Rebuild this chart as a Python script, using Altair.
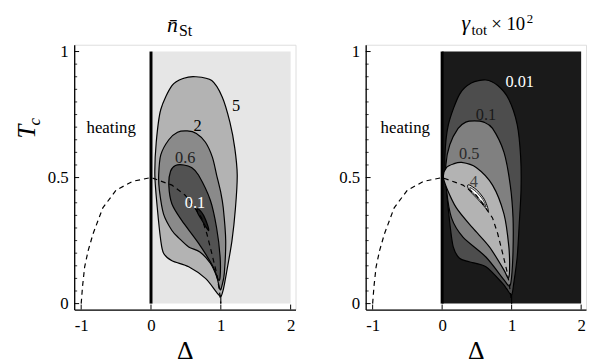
import altair as alt
import pandas as pd

FONT = "Liberation Serif"

# ---------------- data ----------------
x_ticks = [-1, 0, 1, 2]
y_ticks = [0, 0.5, 1]
y_minor = [0.05, 0.1, 0.15, 0.2, 0.25, 0.3, 0.35, 0.4, 0.45,
           0.55, 0.6, 0.65, 0.7, 0.75, 0.8, 0.85, 0.9, 0.95]

shade_d = [0, 2]
shade_t = [0, 1]

# left panel: n_St contours
n5_d = [0.64, 0.87, 1.02, 1.13, 1.20, 1.235, 1.21, 1.16, 1.08, 1.035, 1.0,
        0.94, 0.78, 0.54, 0.30, 0.18, 0.14, 0.09, 0.055, 0.075, 0.14, 0.30, 0.47]
n5_t = [0.90, 0.885, 0.82, 0.72, 0.617, 0.51, 0.38, 0.25, 0.12, 0.055, 0.028,
        0.045, 0.10, 0.146, 0.17, 0.20, 0.25, 0.38, 0.51, 0.64, 0.77, 0.865, 0.894]
n2_d = [0.52, 0.65, 0.78, 0.88, 0.94, 1.0, 1.035, 1.07, 1.05, 1.02, 0.99,
        0.94, 0.85, 0.70, 0.54, 0.40, 0.30, 0.18, 0.12, 0.11, 0.14, 0.255, 0.38]
n2_t = [0.685, 0.675, 0.64, 0.58, 0.51, 0.44, 0.38, 0.25, 0.12, 0.075, 0.055,
        0.107, 0.16, 0.205, 0.225, 0.26, 0.29, 0.355, 0.45, 0.51, 0.59, 0.65, 0.68]
n06_d = [0.47, 0.58, 0.68, 0.85, 0.94, 0.99, 0.99, 0.965,
         0.89, 0.68, 0.44, 0.30, 0.255, 0.28, 0.35]
n06_t = [0.55, 0.54, 0.51, 0.41, 0.30, 0.185, 0.107, 0.094,
         0.146, 0.24, 0.33, 0.395, 0.47, 0.525, 0.548]
n01_d = [0.656, 0.698, 0.755, 0.812, 0.826, 0.79, 0.717, 0.67]
n01_t = [0.375, 0.371, 0.349, 0.310, 0.290, 0.303, 0.336, 0.358]

# right panel: gamma_tot contours
g001_d = [0.63, 0.80, 0.96, 1.08, 1.13, 1.135, 1.11, 1.08, 1.03, 1.0,
          0.93, 0.87, 0.63, 0.39, 0.25, 0.16, 0.11, 0.064, 0.04, 0.09, 0.25, 0.42]
g001_t = [0.887, 0.865, 0.81, 0.71, 0.58, 0.45, 0.32, 0.185, 0.08, 0.035,
          0.058, 0.08, 0.146, 0.166, 0.18, 0.225, 0.32, 0.45, 0.58, 0.71, 0.83, 0.875]
g01_d = [0.465, 0.60, 0.725, 0.89, 0.98, 1.02, 1.02, 1.0, 0.97,
         0.89, 0.63, 0.30, 0.135, 0.064, 0.054, 0.11, 0.23, 0.34]
g01_t = [0.725, 0.72, 0.695, 0.60, 0.47, 0.34, 0.21, 0.107, 0.068,
         0.094, 0.185, 0.264, 0.34, 0.45, 0.55, 0.63, 0.695, 0.72]
g05_d = [0.28, 0.49, 0.725, 0.89, 0.96, 0.97, 0.95,
         0.89, 0.68, 0.44, 0.205, 0.064, 0.017, 0.064, 0.16]
g05_t = [0.56, 0.54, 0.47, 0.355, 0.225, 0.133, 0.10,
         0.133, 0.225, 0.30, 0.38, 0.46, 0.505, 0.54, 0.554]
g4_d = [0.371, 0.418, 0.513, 0.606, 0.654, 0.663, 0.616, 0.513, 0.408, 0.371]
g4_t = [0.471, 0.467, 0.447, 0.414, 0.382, 0.366, 0.382, 0.414, 0.444, 0.46]
g4in_d = [0.404, 0.488, 0.583, 0.63, 0.57, 0.465, 0.408]
g4in_t = [0.46, 0.444, 0.414, 0.384, 0.405, 0.434, 0.452]

# dashed curve
dash_d = [-1.0, -0.98, -0.95, -0.90, -0.83, -0.69, -0.50, -0.265, 0.0,
          0.30, 0.49, 0.60, 0.725, 0.80, 0.87, 0.94, 0.98, 1.0]
dash_t = [0.0, 0.07, 0.146, 0.21, 0.277, 0.38, 0.45, 0.485, 0.5,
          0.47, 0.43, 0.39, 0.34, 0.277, 0.20, 0.12, 0.05, 0.0]

cusp_d = [1.0]
cusp_t = [0.0]
cusp_t2 = [0.035]

# labels
left_lab_text = ["5", "2", "0.6", "0.1", "heating"]
left_lab_d = [1.218, 0.667, 0.49, 0.63, -0.57]
left_lab_t = [0.785, 0.706, 0.578, 0.40, 0.695]
left_lab_col = ["black", "black", "#222222", "white", "black"]
left_lab_size = [16.5, 16.5, 16.5, 16.5, 17]

right_lab_text = ["0.01", "0.1", "0.5", "4", "heating"]
right_lab_d = [1.116, 0.63, 0.39, 0.455, -0.53]
right_lab_t = [0.878, 0.748, 0.593, 0.482, 0.695]
right_lab_col = ["white", "#1a1a1a", "#2a2a2a", "#444444", "black"]
right_lab_size = [16.5, 16.5, 16.5, 16.5, 17]

# ---------------- helpers ----------------
X_DOM = [-1.10, 2.07]
Y_DOM = [-0.0235, 1.027]
W_L, W_R, H = 224, 223, 268

XAXIS = alt.Axis(values=x_ticks, ticks=False, grid=False, domainColor="black",
                 domainWidth=1.3, labelFont=FONT, labelFontSize=17, labelColor="black",
                 labelPadding=8, labelFlush=False,
                 labelExpr="replace(datum.label, '\u2212', '-')",
                 title="\u0394", titleFont=FONT, titleFontSize=26,
                 titleFontWeight="normal", titleColor="black", titlePadding=5)
YAXIS = alt.Axis(values=y_ticks, ticks=False, grid=False, domainColor="black",
                 domainWidth=1.3, labelFont=FONT, labelFontSize=17, labelColor="black",
                 labelPadding=6, labelFlush=False, format="~g", title=None)


def xe(f="d"):
    return alt.X(f"{f}:Q", scale=alt.Scale(domain=X_DOM, nice=False, zero=False), axis=XAXIS)


def ye(f="t"):
    return alt.Y(f"{f}:Q", scale=alt.Scale(domain=Y_DOM, nice=False, zero=False), axis=YAXIS)


def poly(d, t, fill, sw=1.2, stroke="black"):
    df = pd.DataFrame({"d": d, "t": t, "i": list(range(len(d)))})
    return alt.Chart(df).mark_line(fill=fill, stroke=stroke, strokeWidth=sw,
                                   interpolate="cardinal-closed", tension=0.15).encode(
        x=xe(), y=ye(), order="i:Q")


def txt(s, x, y, size, italic=False, angle=0, align="left", baseline="alphabetic", color="black"):
    return alt.Chart(pd.DataFrame({"s": [s]})).mark_text(
        font=FONT, fontSize=size, fontStyle="italic" if italic else "normal",
        angle=angle, align=align, baseline=baseline, color=color).encode(
        text="s:N", x=alt.value(x), y=alt.value(y))


def panel(bg, contours, lab_text, lab_d, lab_t, lab_col, lab_size, extra, width):
    layers = []
    shade = pd.DataFrame({"d": [shade_d[0]], "d2": [shade_d[1]],
                          "t": [shade_t[0]], "t2": [shade_t[1]]})
    layers.append(alt.Chart(shade).mark_rect(color=bg).encode(
        x=xe(), x2="d2:Q", y=ye(), y2="t2:Q"))
    for c in contours:
        layers.append(poly(*c))
    dash = pd.DataFrame({"d": dash_d, "t": dash_t, "i": list(range(len(dash_d)))})
    layers.append(alt.Chart(dash).mark_line(color="black", strokeWidth=1.2,
                                            strokeDash=[5, 4]).encode(
        x=xe(), y=ye(), order="i:Q"))
    cusp = pd.DataFrame({"d": cusp_d, "t": cusp_t, "t2": cusp_t2})
    layers.append(alt.Chart(cusp).mark_rule(color="black", strokeWidth=1.1).encode(
        x=xe(), y=ye(), y2="t2:Q"))
    thick = pd.DataFrame({"d": [0], "t": [shade_t[0]], "t2": [shade_t[1]]})
    layers.append(alt.Chart(thick).mark_rule(color="black", strokeWidth=3).encode(
        x=xe(), y=ye(), y2="t2:Q"))
    # inward ticks
    layers.append(alt.Chart(pd.DataFrame({"t": y_ticks})).mark_rule(
        color="black", strokeWidth=1).encode(y=ye(), x=alt.value(0), x2=alt.value(5)))
    layers.append(alt.Chart(pd.DataFrame({"t": y_minor})).mark_rule(
        color="black", strokeWidth=0.8).encode(y=ye(), x=alt.value(0), x2=alt.value(3)))
    layers.append(alt.Chart(pd.DataFrame({"d": x_ticks})).mark_rule(
        color="black", strokeWidth=1).encode(x=xe(), y=alt.value(H), y2=alt.value(H - 5)))
    labs = pd.DataFrame({"s": lab_text, "d": lab_d, "t": lab_t, "c": lab_col, "z": lab_size})
    layers.append(alt.Chart(labs).mark_text(font=FONT, baseline="middle",
                                            align="center").encode(
        x=xe(), y=ye(), text="s:N", color=alt.Color("c:N", scale=None),
        size=alt.Size("z:Q", scale=None)))
    layers.extend(extra)
    return alt.layer(*layers).properties(width=width, height=H)


left_extra = [
    # invisible anchor fixing the top-left corner of the page layout
    alt.Chart(pd.DataFrame({"a": [0]})).mark_rule(color="white", strokeWidth=1).encode(
        x=alt.value(-66), x2=alt.value(-64), y=alt.value(-34)),
    txt("T", -48, 88, 25, italic=True, angle=270, align="center", baseline="middle"),
    txt("c", -40, 78, 17, italic=True, angle=270, align="center", baseline="middle"),
    txt("n\u0304", 94, -13, 22, italic=True),
    txt("St", 106, -9, 16),
]
right_extra = [
    txt("\u03b3", 97, -15, 22, italic=True),
    txt("tot", 107, -10, 15),
    txt("\u00d7 10", 127, -15, 19),
    txt("2", 163, -22, 13),
]

left = panel("#e6e6e6",
             [(n5_d, n5_t, "#b3b3b3"), (n2_d, n2_t, "#8a8a8a"),
              (n06_d, n06_t, "#525252"), (n01_d, n01_t, "#1e1e1e")],
             left_lab_text, left_lab_d, left_lab_t, left_lab_col, left_lab_size,
             left_extra, W_L)
right = panel("#1a1a1a",
              [(g001_d, g001_t, "#4d4d4d"), (g01_d, g01_t, "#808080"),
               (g05_d, g05_t, "#b3b3b3"), (g4_d, g4_t, "#d9d9d9", 1.0),
               (g4in_d, g4in_t, "white", 0.8)],
              right_lab_text, right_lab_d, right_lab_t, right_lab_col, right_lab_size,
              right_extra, W_R)

chart = alt.HConcatChart(hconcat=[left, right], spacing=71, bounds="flush").properties(
    padding=0
).configure_view(stroke="#666666", strokeWidth=1).configure(background="white")

chart.save("out.html", embed_options={"renderer": "svg", "actions": False})
